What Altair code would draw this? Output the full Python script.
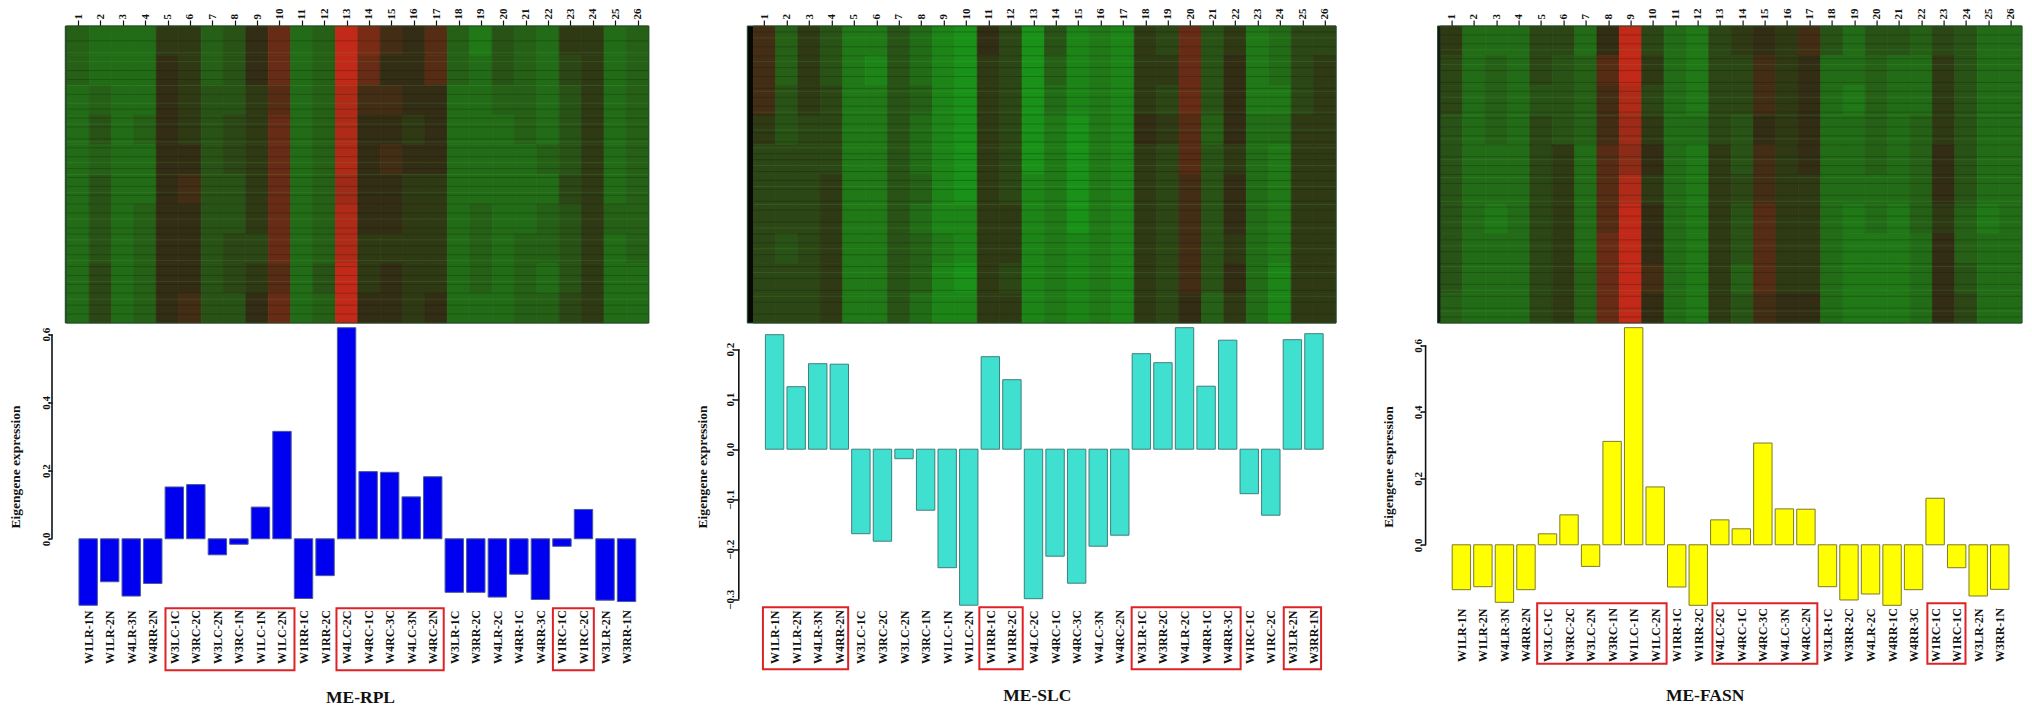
"""Three module panels: expression heatmap above an eigengene bar chart."""

from __future__ import annotations

import altair as alt
import pandas as pd

SAMPLES = [
    "W1LR-1N", "W1LR-2N", "W4LR-3N", "W4RR-2N", "W3LC-1C", "W3RC-2C", "W3LC-2N", "W3RC-1N", "W1LC-1N",
    "W1LC-2N", "W1RR-1C", "W1RR-2C", "W4LC-2C", "W4RC-1C", "W4RC-3C", "W4LC-3N", "W4RC-2N", "W3LR-1C",
    "W3RR-2C", "W4LR-2C", "W4RR-1C", "W4RR-3C", "W1RC-1C", "W1RC-2C", "W3LR-2N", "W3RR-1N",
]
# the third panel prints W1RC-1C twice
SAMPLES_FASN = SAMPLES[:23] + ["W1RC-1C"] + SAMPLES[24:]

RPL_VALUES = [
    -0.195, -0.126, -0.168, -0.131, 0.152, 0.159, -0.047, -0.016, 0.093, 0.315, -0.175, -0.108, 0.619,
    0.197, 0.195, 0.123, 0.182, -0.157, -0.157, -0.171, -0.104, -0.178, -0.022, 0.086, -0.180, -0.184,
]
SLC_VALUES = [
    0.229, 0.125, 0.171, 0.170, -0.169, -0.184, -0.019, -0.122, -0.237, -0.312, 0.185, 0.139, -0.299,
    -0.214, -0.268, -0.194, -0.172, 0.191, 0.173, 0.243, 0.126, 0.218, -0.089, -0.132, 0.219, 0.231,
]
FASN_VALUES = [
    -0.135, -0.126, -0.173, -0.135, 0.033, 0.090, -0.065, 0.311, 0.653, 0.174, -0.127, -0.182, 0.075,
    0.048, 0.306, 0.108, 0.107, -0.126, -0.166, -0.148, -0.182, -0.135, 0.140, -0.069, -0.154, -0.134,
]

# heatmap levels, one list per sample column, ten bands from top to bottom
RPL_HEAT = [
    [-4, -4, -5, -5, -5, -5, -5, -5, -5, -5],
    [-5, -5, -4, -3, -4, -3, -3, -3, -2, -2],
    [-5, -5, -5, -5, -5, -5, -5, -5, -5, -5],
    [-5, -5, -5, -4, -5, -5, -4, -4, -4, -4],
    [-1, 0, 0, 0, 0, 0, 0, 0, 0, 0],
    [-1, -1, -1, -1, 0, 1, 0, 0, 0, 1],
    [-4, -4, -3, -3, -3, -3, -3, -3, -3, -3],
    [-3, -3, -3, -2, -2, -3, -3, -2, -2, -3],
    [0, 0, -1, -1, -1, -1, -1, -2, -1, 0],
    [3, 3, 2, 3, 3, 3, 3, 3, 2, 3],
    [-5, -5, -5, -5, -5, -5, -5, -5, -5, -5],
    [-4, -4, -4, -4, -4, -4, -4, -4, -3, -4],
    [8, 8, 7, 7, 7, 6, 7, 7, 8, 8],
    [4, 3, 1, 0, 0, 0, 0, -1, -1, 0],
    [1, 0, 1, 0, 1, 0, 0, -1, 0, 0],
    [0, 0, 0, -1, 0, -1, -1, -1, -1, -1],
    [2, 2, 0, 0, 0, -1, -1, -1, -1, 0],
    [-4, -4, -5, -5, -5, -5, -5, -5, -5, -5],
    [-6, -5, -5, -5, -5, -5, -4, -4, -4, -5],
    [-3, -3, -4, -5, -5, -5, -5, -5, -5, -5],
    [-4, -4, -4, -4, -5, -5, -5, -4, -4, -4],
    [-5, -5, -5, -5, -4, -5, -4, -4, -5, -4],
    [-1, -2, -3, -3, -3, -2, -3, -3, -3, -2],
    [-1, -1, -1, -1, -1, -1, -1, -1, -1, -1],
    [-5, -5, -5, -5, -5, -5, -4, -5, -5, -5],
    [-4, -4, -4, -4, -4, -4, -4, -4, -5, -5],
]
SLC_HEAT = [
    [1, 1, 1, -1, -2, -2, -2, -2, -2, -2],
    [-4, -4, -3, -3, -2, -2, -2, -3, -2, -2],
    [-1, -1, -1, -2, -2, -2, -2, -2, -2, -2],
    [-3, -3, -2, -2, -2, -1, -1, -1, -1, -1],
    [-6, -6, -6, -6, -6, -6, -6, -6, -6, -6],
    [-6, -7, -6, -6, -6, -6, -6, -6, -6, -6],
    [-3, -3, -3, -3, -3, -3, -3, -3, -3, -3],
    [-5, -5, -4, -5, -5, -4, -5, -4, -4, -5],
    [-7, -7, -7, -7, -7, -7, -7, -6, -7, -7],
    [-8, -8, -8, -8, -8, -8, -7, -7, -8, -7],
    [0, -1, -1, -1, -1, -1, -1, -1, -1, -1],
    [-2, -2, -2, -2, -2, -2, -1, -1, -2, -1],
    [-8, -8, -8, -8, -8, -7, -7, -7, -7, -7],
    [-3, -4, -5, -6, -6, -6, -6, -6, -6, -6],
    [-7, -7, -7, -8, -8, -8, -8, -7, -7, -7],
    [-6, -6, -6, -6, -6, -6, -6, -6, -6, -6],
    [-7, -7, -7, -7, -7, -7, -7, -7, -7, -7],
    [-1, -1, -1, 0, -1, -1, -1, -1, -1, -1],
    [-2, -1, -2, -1, -2, -2, -2, -2, -2, -2],
    [3, 3, 3, 2, 2, 1, 1, 1, 1, 0],
    [-3, -3, -3, -4, -3, -3, -3, -3, -3, -4],
    [-1, 0, 0, 0, -1, 0, 0, -1, 0, -1],
    [-6, -6, -6, -5, -5, -5, -5, -5, -5, -5],
    [-5, -5, -6, -5, -6, -6, -6, -6, -7, -7],
    [-2, -2, -2, -1, -1, -1, -1, -1, -1, -1],
    [-2, -1, -1, -1, -1, -1, -1, -1, -1, -1],
]
FASN_HEAT = [
    [-1, -2, -2, -3, -3, -3, -3, -3, -3, -4],
    [-5, -5, -5, -5, -5, -5, -5, -5, -5, -5],
    [-5, -4, -4, -4, -5, -5, -6, -5, -5, -5],
    [-5, -5, -5, -5, -5, -5, -5, -5, -5, -5],
    [-2, -2, -3, -2, -2, -2, -2, -2, -2, -2],
    [-2, -3, -3, -3, -1, -1, -1, -1, -1, -1],
    [-5, -4, -4, -4, -5, -5, -5, -5, -4, -4],
    [0, 2, 1, 1, 2, 2, 2, 3, 3, 3],
    [8, 8, 7, 6, 5, 7, 8, 8, 8, 8],
    [-2, -1, -2, -1, 0, -1, 0, 0, 1, 0],
    [-5, -5, -5, -5, -5, -5, -5, -5, -5, -5],
    [-6, -6, -6, -5, -6, -6, -6, -6, -6, -6],
    [-2, -2, -2, -2, -1, -1, -1, -1, -1, -1],
    [-1, -2, -2, -3, -3, -2, -3, -3, -4, -3],
    [0, 1, 1, 0, 1, 1, 2, 2, 2, 1],
    [-1, -1, -1, -1, -1, -1, -1, -1, -1, 0],
    [1, 0, 0, 0, 0, -1, -1, -1, -1, 0],
    [-3, -5, -5, -5, -5, -5, -5, -5, -5, -5],
    [-5, -5, -6, -5, -5, -5, -6, -6, -6, -6],
    [-3, -4, -4, -4, -4, -5, -5, -6, -6, -6],
    [-3, -5, -5, -5, -5, -5, -6, -6, -6, -6],
    [-4, -5, -5, -4, -4, -4, -4, -5, -5, -5],
    [-2, -1, -1, -1, 0, 0, -1, 0, 0, 0],
    [-3, -3, -3, -3, -3, -3, -4, -4, -3, -2],
    [-5, -5, -5, -5, -5, -5, -6, -5, -5, -5],
    [-5, -5, -5, -5, -5, -5, -5, -5, -5, -5],
]

# rows where the heatmap shows dark or pale streaks, in band units
RPL_DARK = [0.5, 1.5, 1.8, 2.3, 2.8, 3.1, 3.4, 3.8, 4.1, 4.4, 4.8, 5.1, 5.4, 5.7, 6.0, 6.3, 6.8, 7.0, 7.4, 7.7, 8.1, 8.4, 8.7, 9.0, 9.4, 9.7]
RPL_PALE = [0.9, 1.2, 2.0, 2.6, 3.3, 3.9, 4.6, 5.0, 5.6, 6.5, 7.2, 7.9, 8.6, 9.2]
SLC_DARK = [0.2, 0.7, 1.0, 1.4, 1.7, 2.1, 2.4, 2.7, 3.0, 3.3, 3.6, 3.9, 4.3, 4.5, 4.9, 5.2, 5.5, 5.9, 6.2, 6.6, 7.0, 7.3, 7.7, 8.1, 8.5, 8.9, 9.3, 9.7]
SLC_PALE = [0.4, 1.2, 2.2, 2.9, 3.5, 4.1, 4.7, 5.4, 6.0, 6.8, 7.5, 8.3, 9.1]
FASN_DARK = [0.3, 0.6, 1.1, 1.5, 1.9, 2.2, 2.6, 2.9, 3.1, 3.4, 3.7, 4.0, 4.4, 4.7, 5.0, 5.3, 5.7, 6.1, 6.4, 6.8, 7.2, 7.6, 8.0, 8.3, 8.7, 9.1, 9.5, 9.8]
FASN_PALE = [0.8, 1.3, 2.4, 3.0, 3.8, 4.5, 5.1, 5.9, 6.6, 7.4, 8.1, 8.9, 9.6]

SERIF = "Liberation Serif"
VIEW_WIDTH = 597
HEAT_HEIGHT = 297
BAR_HEIGHT = 278


def heat_panel(levels, dark, pale, x_domain, strip, strip_color, tick_size=6):
    frame = pd.DataFrame(
        [
            {"left": c + 0.5, "right": c + 1.5, "top": r, "bottom": r + 1, "level": v}
            for c, column in enumerate(levels)
            for r, v in enumerate(column)
        ]
    )
    x_scale = alt.Scale(domain=x_domain, nice=False, zero=False)
    y_scale = alt.Scale(domain=[0, 10], reverse=True, nice=False, zero=False)
    colours = alt.Scale(domain=[-10, 0, 10], range=["#14aa19", "#322d14", "#e62819"], interpolate="rgb")
    x_axis = alt.Axis(
        orient="top", values=list(range(1, 27)), title=None, format="d", grid=False, domain=False,
        tickSize=tick_size, tickWidth=1.2, tickColor="#111111", labelAngle=270, labelAlign="left",
        labelBaseline="middle", labelPadding=1, labelFont=SERIF, labelFontSize=11,
        labelFontWeight="bold", labelColor="#111111", labelOverlap=False,
    )
    x_enc = alt.X("left:Q", scale=x_scale, axis=x_axis)

    cells = (
        alt.Chart(frame)
        .mark_rect(strokeWidth=0.8)
        .encode(
            x=x_enc,
            x2="right:Q",
            y=alt.Y("top:Q", scale=y_scale, axis=None),
            y2="bottom:Q",
            color=alt.Color("level:Q", scale=colours, legend=None),
            stroke=alt.Stroke("level:Q", scale=colours, legend=None),
        )
    )
    edge = pd.DataFrame({"left": [strip[0]], "right": [strip[1]], "top": [0], "bottom": [10]})
    left_strip = (
        alt.Chart(edge)
        .mark_rect(color=strip_color)
        .encode(x=x_enc, x2="right:Q", y=alt.Y("top:Q", scale=y_scale, axis=None), y2="bottom:Q")
    )
    layers = [cells, left_strip]
    for rows, colour, alpha in ((dark, "#0a140a", 0.3), (pale, "#50c850", 0.2)):
        streaks = pd.DataFrame({"row": rows, "left": strip[1], "right": 26.5})
        layers.append(
            alt.Chart(streaks)
            .mark_rule(color=colour, opacity=alpha, strokeWidth=0.8)
            .encode(x=x_enc, x2="right:Q", y=alt.Y("row:Q", scale=y_scale, axis=None))
        )
    outline = pd.DataFrame({"left": [strip[0]], "right": [26.5], "top": [0], "bottom": [10]})
    layers.append(
        alt.Chart(outline)
        .mark_rect(filled=False, stroke="#24482a", strokeWidth=1)
        .encode(x=x_enc, x2="right:Q", y=alt.Y("top:Q", scale=y_scale, axis=None), y2="bottom:Q")
    )
    return alt.layer(*layers).properties(width=VIEW_WIDTH, height=HEAT_HEIGHT)


def bar_panel(
    values, samples, name, x_domain, y_domain, axis_span, y_ticks, fill, edge, boxes, box_y,
    label_pad, tick_size, title_pad, label_pad_y, y_title, title_x, title_y,
):
    frame = pd.DataFrame({"idx": list(range(1, 27)), "value": values})
    x_scale = alt.Scale(domain=x_domain, nice=False, zero=False)
    y_scale = alt.Scale(domain=y_domain, nice=False, zero=False)
    names = ",".join(f"'{s}'" for s in samples)
    x_axis = alt.Axis(
        values=list(range(1, 27)), labelExpr=f"[{names}][datum.value-1]", title=name, grid=False,
        domain=False, ticks=False, labelAngle=270, labelAlign="left", labelBaseline="middle",
        labelPadding=label_pad, labelFont=SERIF, labelFontSize=12, labelFontWeight="bold",
        labelColor="#111111", labelOverlap=False, titleFont=SERIF, titleFontSize=17.5,
        titleFontWeight="bold", titleColor="#111111", titleX=title_x, titleY=title_y,
        titleAlign="center", titleBaseline="middle",
    )
    y_axis = alt.Axis(
        values=y_ticks, title=y_title, format=".1f", grid=False, domain=False, tickSize=tick_size,
        tickWidth=1.5, tickColor="#111111", labelAngle=270, labelAlign="center",
        labelBaseline="middle", labelPadding=label_pad_y, labelFont=SERIF, labelFontSize=11,
        labelFontWeight="bold", labelColor="#111111", labelOverlap=False, titleFont=SERIF, titleFontSize=13.5,
        titleFontWeight="bold", titleColor="#111111", titlePadding=title_pad,
    )

    bars = (
        alt.Chart(frame)
        .mark_bar(size=18.4, orient="vertical", color=fill, stroke=edge, strokeWidth=1)
        .encode(
            x=alt.X("idx:Q", scale=x_scale, axis=x_axis),
            y=alt.Y("value:Q", stack=None, scale=y_scale, axis=y_axis),
            y2=alt.Y2Datum(0),
        )
    )
    line = pd.DataFrame({"low": [axis_span[0]], "high": [axis_span[1]]})
    axis_line = (
        alt.Chart(line)
        .mark_rule(color="#111111", strokeWidth=1.6)
        .encode(x=alt.value(0), y=alt.Y("low:Q", scale=y_scale, axis=y_axis), y2="high:Q")
    )
    box_frame = pd.DataFrame({"left": [b[0] for b in boxes], "right": [b[1] for b in boxes]})
    red_boxes = (
        alt.Chart(box_frame)
        .mark_rect(filled=False, stroke="#de2226", strokeWidth=2)
        .encode(
            x=alt.X("left:Q", scale=x_scale, axis=x_axis),
            x2="right:Q",
            y=alt.value(box_y[0]),
            y2=alt.value(box_y[1]),
        )
    )
    return alt.layer(bars, axis_line, red_boxes).properties(width=VIEW_WIDTH, height=BAR_HEIGHT)


panel_rpl = alt.vconcat(
    heat_panel(RPL_HEAT, RPL_DARK, RPL_PALE, [-0.162, 26.51], (0.432, 0.5), "#143c14"),
    bar_panel(
        RPL_VALUES, SAMPLES, "ME-RPL", [-0.447, 26.81], [-0.1956, 0.6196], [0, 0.6], [0, 0.2, 0.4, 0.6],
        "#0000f0", "#4a5a9a", [(4.59, 10.58), (12.53, 17.51), (22.58, 24.48)], (280.7, 342.7),
        58, 4, 18, 2, "Eigengene expression", 308, 92,
    ),
    spacing=2.5,
)
panel_slc = alt.vconcat(
    heat_panel(SLC_HEAT, SLC_DARK, SLC_PALE, [-0.137, 26.49], (0.242, 0.5), "#050805"),
    bar_panel(
        SLC_VALUES, SAMPLES, "ME-SLC", [-0.427, 26.78], [-0.3126, 0.2434], [-0.3, 0.2],
        [-0.3, -0.2, -0.1, 0, 0.1, 0.2], "#40e0d0", "#3d7f7c",
        [(0.46, 4.41), (10.49, 12.5), (17.55, 22.6), (24.6, 26.33)], (279.7, 341.7),
        58, 6, 15.5, 2, "Eigengene expression", 298, 90,
    ),
    spacing=2.5,
)
panel_fasn = alt.vconcat(
    heat_panel(FASN_HEAT, FASN_DARK, FASN_PALE, [-0.162, 26.53], (0.374, 0.508), "#101c10"),
    bar_panel(
        FASN_VALUES, SAMPLES_FASN, "ME-FASN", [-0.429, 26.83], [-0.1826, 0.6535], [0, 0.6], [0, 0.2, 0.4, 0.6],
        "#ffff00", "#7d7a28", [(4.52, 10.53), (12.66, 17.53), (22.64, 24.41)], (275.7, 336.3),
        56, 5, 17, 2, "Eigengene espression", 279, 90,
    ),
    spacing=2.5,
)

chart = (
    alt.hconcat(panel_rpl, panel_slc, panel_fasn, spacing=44.8)
    .properties(padding=0, background="white")
    .configure_view(stroke=None)
)
chart.save("out.html", embed_options={"renderer": "svg", "actions": False})
